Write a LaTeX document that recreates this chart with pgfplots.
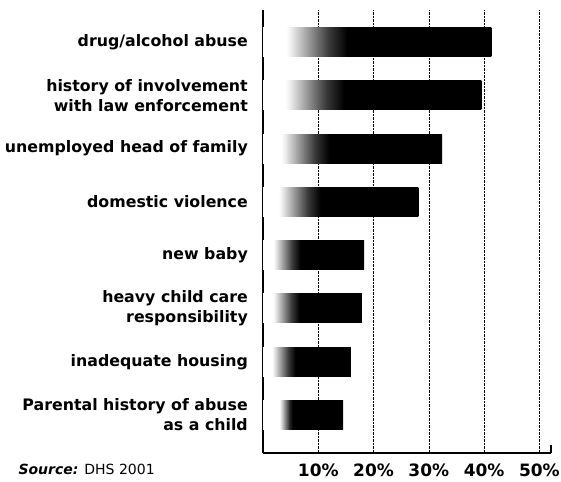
\documentclass[border=0pt]{standalone}
\usepackage{pgfplots}
\pgfplotsset{compat=1.18}
\usepackage{fontspec}
\setmainfont{DejaVu Sans}
\pgfdeclarehorizontalshading{barfade}{100bp}{color(0bp)=(white); color(25bp)=(white); color(30bp)=(white); color(31bp)=(black!6); color(35bp)=(black!40); color(39.5bp)=(black!78); color(43.5bp)=(black); color(100bp)=(black)}
\pgfdeclarehorizontalshading{barfadelate}{100bp}{color(0bp)=(white); color(25bp)=(white); color(35bp)=(white); color(36bp)=(black!8); color(39bp)=(black!50); color(41.5bp)=(black!85); color(43.5bp)=(black); color(100bp)=(black)}
\pgfplotsset{mybar/.style={xbar, bar width=29pt, bar shift=0pt, draw=none, shading=barfade}}
\begin{document}
\begin{tikzpicture}
\useasboundingbox (0,0) rectangle (561pt,481pt);
\begin{axis}[
  scale only axis,
  width=288pt, height=443pt,
  at={(263pt,28pt)}, anchor=south west,
  xmin=0, xmax=52.1,
  ymin=-0.713, ymax=7.6,
  axis x line=bottom, axis y line=left,
  axis line style={-, line width=2pt, black},
  xtick={10,20,30,40,50},
  xticklabels={10\%,20\%,30\%,40\%,50\%},
  ytick={0,1,2,3,4,5,6,7},
  yticklabels={{Parental history of abuse\\as a child},
               {inadequate housing},
               {heavy child care\\responsibility},
               {new baby},
               {domestic violence},
               {unemployed head of family},
               {history of involvement\\with law enforcement},
               {drug/alcohol abuse}},
  major tick length=0pt,
  xmajorgrids,
  grid style={densely dotted, black, line width=0.6pt},
  yticklabel style={align=right, font=\fontsize{15.8}{20}\selectfont\bfseries, inner sep=0pt, xshift=-15pt},
  xticklabel style={font=\fontsize{17}{20}\selectfont\bfseries, inner sep=0pt, yshift=-11pt},
  clip=false,
]
\addplot[mybar, shading=barfadelate] coordinates {(14.5,0)};
\addplot[mybar] coordinates {(15.9,1)};
\addplot[mybar] coordinates {(17.9,2)};
\addplot[mybar] coordinates {(18.3,3)};
\addplot[mybar] coordinates {(28.1,4)};
\addplot[mybar] coordinates {(32.4,5)};
\addplot[mybar] coordinates {(39.5,6)};
\addplot[mybar] coordinates {(41.3,7)};
\draw[line width=2pt] (rel axis cs:1,0) -- ++(0pt,8pt);
\end{axis}
\node[anchor=base west, font=\fontsize{14}{16}\selectfont] at (15pt,7pt) {\textbf{\textit{Source:}} DHS 2001};
\end{tikzpicture}
\end{document}
